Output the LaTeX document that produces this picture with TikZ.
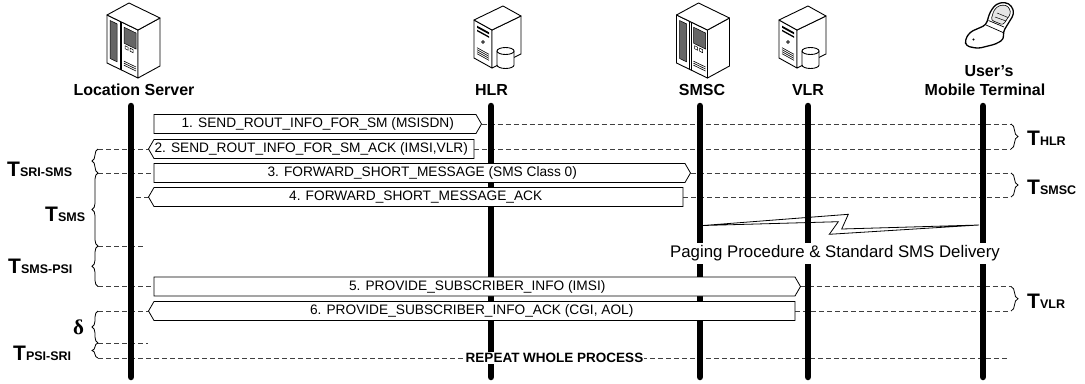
\documentclass[tikz,border=0pt]{standalone}
\usepackage{fontspec}
\setmainfont{Liberation Sans}
\newfontfamily\serifgreek{Liberation Serif}
\usetikzlibrary{decorations.pathreplacing}
\newcommand\MsgRight[5]{%
  \draw[msgbox] ({#1},{#3-9.5}) -- ({#2},{#3-9.5}) -- ({#2+5.5},{#3}) -- ({#2},{#3+9.5}) -- ({#1},{#3+9.5}) -- cycle;
  \node[msgtext] (#4) at ({(#1+#2+5.5)/2},{#3}) {#5};}
\newcommand\MsgLeft[5]{%
  \draw[msgbox] ({#1},{#3-9.5}) -- ({#2},{#3-9.5}) -- ({#2},{#3+9.5}) -- ({#1},{#3+9.5}) -- ({#1-5.5},{#3}) -- cycle;
  \node[msgtext] (#4) at ({(#1-5.5+#2)/2},{#3}) {#5};}
\tikzset{
  cabinet/.pic={
    \draw[icon,fill=white] (-27,15) -- (4,30) -- (4,78) -- (-27,63) -- cycle;
    \draw[icon,fill=white] (4,30) -- (26,18) -- (26,66) -- (4,78) -- cycle;
    \draw[icon,fill=white] (-27,15) -- (-5,3) -- (26,18) -- (4,30) -- cycle;
    \draw[line width=0.5bp,fill=black!60] (-24,20.45) -- (-17,23.84) -- (-17,61.8) -- (-24,58.45) -- cycle;
    \draw[line width=0.6bp] (-14,21.3) -- (-14,69.3) (-12.5,22.0) -- (-12.5,70);
    \draw[line width=0.5bp,fill=black!60] (-10,27.2) -- (2,33.0) -- (2,49) -- (-10,43.2) -- cycle;
    \draw[line width=0.5bp] (-9,45.7) -- (-6,47.2) -- (-6,50.2) -- (-9,48.7) -- cycle
      (-4,48.1) -- (-1,49.6) -- (-1,52.6) -- (-4,51.1) -- cycle;
    \draw[line width=0.6bp] (-10,61.2) -- (2,67) (-10,63.2) -- (2,69) (-10,65.2) -- (2,71);
  },
  tower/.pic={
    \draw[icon,fill=white] (-19,20) -- (-1,30) -- (-1,68) -- (-19,58) -- cycle;
    \draw[icon,fill=white] (-1,30) -- (28,16) -- (28,54) -- (-1,68) -- cycle;
    \draw[icon,fill=white] (-19,20) -- (10,6) -- (28,16) -- (-1,30) -- cycle;
    \fill (-16,25.7) -- (-4,32.3) -- (-4,34.3) -- (-16,27.7) -- cycle;
    \fill (-16,29.7) -- (-4,36.3) -- (-4,37.8) -- (-16,31.2) -- cycle;
    \draw[line width=0.6bp] (-10,42) circle[radius=1.4bp];
    \draw[line width=0.6bp] (-16,47.7) -- (-4,54.3) (-16,49.7) -- (-4,56.3)
      (-16,51.7) -- (-4,58.3) (-16,53.7) -- (-4,60.3);
    \draw[icon,fill=white] (4,51) -- (4,65) .. controls (4,66.93) and (7.81,68.5) .. (12.5,68.5)
      .. controls (17.19,68.5) and (21,66.93) .. (21,65) -- (21,51) -- cycle;
    \draw[icon,fill=white] (12.5,51) ellipse[x radius=8.5bp,y radius=3.5bp];
  }
}
\begin{document}
\begin{tikzpicture}[x=1bp,y=-1bp,
  life/.style={line width=6.5bp,line cap=round},
  dashln/.style={draw=black!75,line width=0.8bp,dash pattern=on 5bp off 3bp},
  msgbox/.style={draw=black,line width=0.8bp,fill=white},
  msgtext/.style={font=\fontsize{13.7bp}{15bp}\selectfont,inner sep=0pt},
  actor/.style={font=\bfseries\fontsize{16bp}{18bp}\selectfont,inner sep=0pt,anchor=base},
  tlab/.style={font=\bfseries\fontsize{21bp}{22bp}\selectfont,inner sep=0pt,anchor=base west},
  bracel/.style={decorate,decoration={brace,amplitude=6bp},line width=0.8bp},
  bracer/.style={decorate,decoration={brace,amplitude=7bp},line width=0.8bp},
  icon/.style={line width=0.9bp,line join=round}]
\useasboundingbox (0,0) rectangle (1085,383);

% lifeline end points
\coordinate (ls-t) at (131,106);  \coordinate (ls-b) at (131,377);
\coordinate (hlr-t) at (491,106); \coordinate (hlr-b) at (491,377);
\coordinate (smsc-t) at (700,106);\coordinate (smsc-b) at (700,377);
\coordinate (vlr-t) at (808,106); \coordinate (vlr-b) at (808,377);
\coordinate (mt-t) at (983,106);  \coordinate (mt-b) at (983,377);

% message end points
\coordinate (m1w) at (154,124);   \coordinate (m1e) at (481.5,124);
\coordinate (m2w) at (148.5,149); \coordinate (m2e) at (474,149);
\coordinate (m3w) at (154,173);   \coordinate (m3e) at (690.5,173);
\coordinate (m4w) at (148.5,197); \coordinate (m4e) at (683,197);
\coordinate (m5w) at (154,286.5); \coordinate (m5e) at (800.5,286.5);
\coordinate (m6w) at (148.5,311); \coordinate (m6e) at (795,311);

% brace end points (left, right)
\coordinate (l149) at (98,149); \coordinate (l173) at (98,173);
\coordinate (l246) at (98,246); \coordinate (l286) at (98,286.5);
\coordinate (l311) at (98,311); \coordinate (l343) at (98,343);
\coordinate (l358) at (98,358);
\coordinate (r124) at (1011,124); \coordinate (r149) at (1011,149);
\coordinate (r173) at (1011,173); \coordinate (r197) at (1011,197);
\coordinate (r286) at (1011,286.5); \coordinate (r311) at (1011,311);
\coordinate (e246) at (145,246); \coordinate (e343) at (148,343);
\coordinate (s197) at (128,197); \coordinate (e358) at (1007,358);

% dashed guide lines
\draw[dashln] (m1e) -- (r124);
\draw[dashln] (l149) -- (m2w) (m2e) -- (r149);
\draw[dashln] (l173) -- (m3w) (m3e) -- (r173);
\draw[dashln] (s197) -- (m4w) (m4e) -- (r197);
\draw[dashln] (l246) -- (e246);
\draw[dashln] (l286) -- (m5w) (m5e) -- (r286);
\draw[dashln] (l311) -- (m6w) (m6e) -- (r311);
\draw[dashln] (l343) -- (e343);
\draw[dashln] (l358) -- (e358);

% lifelines
\draw[life] (ls-t) -- (ls-b);
\draw[life] (hlr-t) -- (hlr-b);
\draw[life] (smsc-t) -- (smsc-b);
\draw[life] (vlr-t) -- (vlr-b);
\draw[life] (mt-t) -- (mt-b);

% messages
\MsgRight{154}{476}{124}{m1}{1. SEND\_ROUT\_INFO\_FOR\_SM (MSISDN)}
\MsgLeft{154}{474}{149}{m2}{2. SEND\_ROUT\_INFO\_FOR\_SM\_ACK (IMSI,VLR)}
\MsgRight{154}{685}{173}{m3}{3. FORWARD\_SHORT\_MESSAGE (SMS Class 0)}
\MsgLeft{154}{683}{197}{m4}{4. FORWARD\_SHORT\_MESSAGE\_ACK}
\MsgRight{154}{795}{286.5}{m5}{5. PROVIDE\_SUBSCRIBER\_INFO (IMSI)}
\MsgLeft{154}{795}{311}{m6}{6. PROVIDE\_SUBSCRIBER\_INFO\_ACK (CGI, AOL)}

% paging lightning
\draw[line width=0.8bp,line join=miter] (703,225.5) -- (848.3,214.3) -- (841.7,229) -- (979,225)
  -- (829.3,234.3) -- (838.3,221.7) -- cycle;
\node[font=\fontsize{16.8bp}{18bp}\selectfont,fill=white,inner xsep=1bp,inner ysep=2.5bp,anchor=base]
  (paging) at (835,257.7) {Paging Procedure \& Standard SMS Delivery};

% repeat label
\node[font=\bfseries\fontsize{13.5bp}{15bp}\selectfont,fill=white,inner sep=0.8bp] (repeat) at (554.5,358) {REPEAT WHOLE PROCESS};

% braces
\draw[bracel] (l173) -- (l149);
\draw[bracel] (l246) -- (l173);
\draw[bracel] (l286) -- (l246);
\draw[bracel] (l343) -- (l311);
\draw[bracel] (l358) -- (l343);
\draw[bracer] (r124) -- (r149);
\draw[bracer] (r173) -- (r197);
\draw[bracer] (r286) -- (r311);

% time labels
\node[tlab] (tsrisms) at (7,176) {T\fontsize{12.5bp}{13bp}\selectfont SRI-SMS};
\node[tlab] (tsms) at (45,221) {T\fontsize{12.5bp}{13bp}\selectfont SMS};
\node[tlab] (tsmspsi) at (8,273) {T\fontsize{12.5bp}{13bp}\selectfont SMS-PSI};
\node[tlab] (delta) at (73,334) {\serifgreek δ};
\node[tlab] (tpsisri) at (13,360) {T\fontsize{12.5bp}{13bp}\selectfont PSI-SRI};
\node[tlab] (thlr) at (1027,145.5) {T\fontsize{12.5bp}{13bp}\selectfont HLR};
\node[tlab] (tsmsc) at (1027,194) {T\fontsize{12.5bp}{13bp}\selectfont SMSC};
\node[tlab] (tvlr) at (1027,308) {T\fontsize{12.5bp}{13bp}\selectfont VLR};

% actor labels
\node[actor] (lsl) at (134,95) {Location Server};
\node[actor] (hlrl) at (491.5,95) {HLR};
\node[actor] (smscl) at (702,95) {SMSC};
\node[actor] (vlrl) at (808,95) {VLR};
\node[actor] (mtl1) at (989,76) {User’s};
\node[actor] (mtl2) at (985,95) {Mobile Terminal};

% icons
\pic at (134,0) {cabinet};
\pic at (703.5,0) {cabinet};
\pic at (493,0) {tower};
\pic at (798,0) {tower};

% mobile phone
\draw[line width=1.3bp,fill=white,rounded corners=3.5bp,line join=round]
  (965,40) -- (970,32) -- (986,25) -- (990,12) -- (996,4) -- (1005,2) -- (1012,6) -- (1014,14)
  -- (1003,32) -- (1004,39) -- (996,44) -- (978,48.5) -- (966,46) -- cycle;
\draw[line width=0.6bp,fill=black!10,rounded corners=2.5bp]
  (991,20) -- (994,10) -- (999,5.5) -- (1006,5) -- (1010,9) -- (1010.5,14) -- (1003,25) -- cycle;
\draw[line width=0.7bp] (986,25) -- (1003,32.5) (988.5,20.5) -- (1004,27);
\draw[line width=0.5bp] (995,17) -- (1006,21) (997,13) -- (1008,17.5);
\fill (973.5,39.5) circle[radius=1.2bp];
\end{tikzpicture}
\end{document}
